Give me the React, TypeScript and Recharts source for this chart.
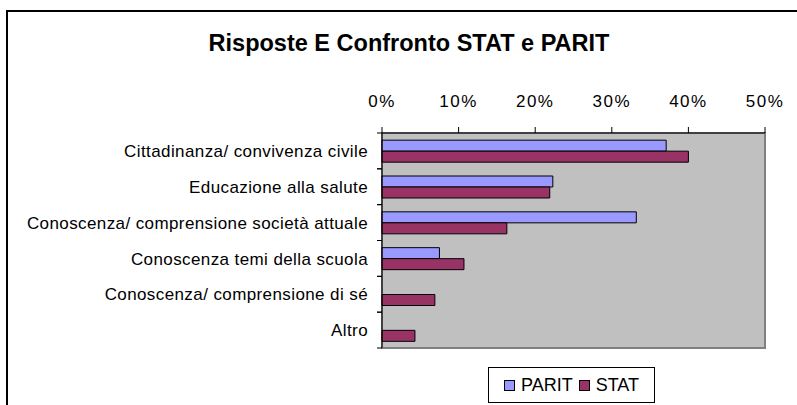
import React from 'react';
import { BarChart, Bar, XAxis, YAxis, Legend, ReferenceArea } from 'recharts';

const title = 'Risposte E Confronto STAT e PARIT';
const categories = [
  'Cittadinanza/ convivenza civile',
  'Educazione alla salute',
  'Conoscenza/ comprensione società attuale',
  'Conoscenza temi della scuola',
  'Conoscenza/ comprensione di sé',
  'Altro',
];
const paritValues = [37.1, 22.3, 33.2, 7.5, 0, 0];
const statValues = [40.0, 21.9, 16.3, 10.7, 6.9, 4.3];
const xTicks = [0, 10, 20, 30, 40, 50];

const PARIT_COLOR = '#9999FF';
const STAT_COLOR = '#993366';
const FONT = '"Liberation Sans", Arial, sans-serif';

const data = categories.map((c, i) => ({ category: c, PARIT: paritValues[i], STAT: statValues[i] }));

const Y_TICK_SIZE = 5;
const Y_TICK_MARGIN = 9;

const XTick = (props: any) => {
  const { x, y, payload } = props;
  return (
    <text x={x} y={y} textAnchor="middle" fill="#000" fontSize={17} fontFamily={FONT} style={{ letterSpacing: '1.5px' }}>
      {`${payload.value}%`}
    </text>
  );
};

const YTick = (props: any) => {
  const { x, y, payload } = props;
  const off = payload.offset ?? 0;
  const ax = x + Y_TICK_SIZE + Y_TICK_MARGIN;
  return (
    <g>
      <line x1={ax - Y_TICK_SIZE} x2={ax} y1={y - off} y2={y - off} stroke="#000" strokeWidth={1} />
      <line x1={ax - Y_TICK_SIZE} x2={ax} y1={y + off} y2={y + off} stroke="#000" strokeWidth={1} />
      <text x={x} y={y} dy="0.36em" textAnchor="end" fill="#000" fontSize={17} fontFamily={FONT} style={{ letterSpacing: '0.4px' }}>
        {payload.value}
      </text>
    </g>
  );
};

const LegendContent = (props: any) => {
  const { payload } = props;
  return (
    <div
      style={{
        display: 'flex',
        alignItems: 'center',
        justifyContent: 'center',
        height: '100%',
        boxSizing: 'border-box',
        border: '1px solid #000',
        background: '#fff',
        fontFamily: FONT,
        fontSize: 18,
        color: '#000',
      }}
    >
      {(payload || []).map((p: any) => (
        <div key={p.value} style={{ display: 'flex', alignItems: 'center', margin: '0 3px' }}>
          <span
            style={{
              display: 'inline-block',
              width: 9,
              height: 9,
              border: '1px solid #000',
              background: p.color,
              marginRight: 6,
            }}
          />
          <span>{p.value}</span>
        </div>
      ))}
    </div>
  );
};

export default function App() {
  return (
    <div style={{ position: 'relative', width: 797, height: 405, background: '#fff', fontFamily: FONT }}>
      <style>{'body{margin:0}'}</style>
      <div
        style={{
          position: 'absolute',
          left: 6,
          top: 10,
          width: 791,
          height: 395,
          borderTop: '2px solid #000',
          borderLeft: '2px solid #000',
          boxSizing: 'border-box',
        }}
      />
      <div
        style={{
          position: 'absolute',
          left: 0,
          width: 818,
          top: 28,
          textAlign: 'center',
          fontWeight: 'bold',
          fontSize: 23.5,
          color: '#000',
          lineHeight: '30px',
        }}
      >
        {title}
      </div>
      <div style={{ position: 'absolute', left: 0, top: 0 }}>
        <BarChart
          width={797}
          height={405}
          data={data}
          layout="vertical"
          margin={{ top: 103, right: 32, bottom: 57, left: 0 }}
          barCategoryGap="20%"
          barGap={0}
        >
          <ReferenceArea x1={0} x2={50} fill="#C0C0C0" fillOpacity={1} stroke="#808080" strokeWidth={2} ifOverflow="visible" />
          <XAxis
            type="number"
            orientation="top"
            domain={[0, 50]}
            ticks={xTicks}
            height={30}
            tickSize={6}
            tickMargin={20}
            tick={<XTick />}
            axisLine={{ stroke: '#000', strokeWidth: 1 }}
            tickLine={{ stroke: '#000', strokeWidth: 1 }}
            interval={0}
          />
          <YAxis
            type="category"
            dataKey="category"
            width={382}
            tickSize={Y_TICK_SIZE}
            tickMargin={Y_TICK_MARGIN}
            tickLine={false}
            tick={<YTick />}
            axisLine={{ stroke: '#000', strokeWidth: 1 }}
            interval={0}
          />
          <Legend
            layout="horizontal"
            align="center"
            verticalAlign="middle"
            content={<LegendContent />}
            wrapperStyle={{ position: 'absolute', left: 488, top: 367, width: 167, height: 36 }}
          />
          <Bar dataKey="PARIT" name="PARIT" fill={PARIT_COLOR} stroke="#000" strokeWidth={1} isAnimationActive={false} />
          <Bar dataKey="STAT" name="STAT" fill={STAT_COLOR} stroke="#000" strokeWidth={1} isAnimationActive={false} />
        </BarChart>
      </div>
    </div>
  );
}
